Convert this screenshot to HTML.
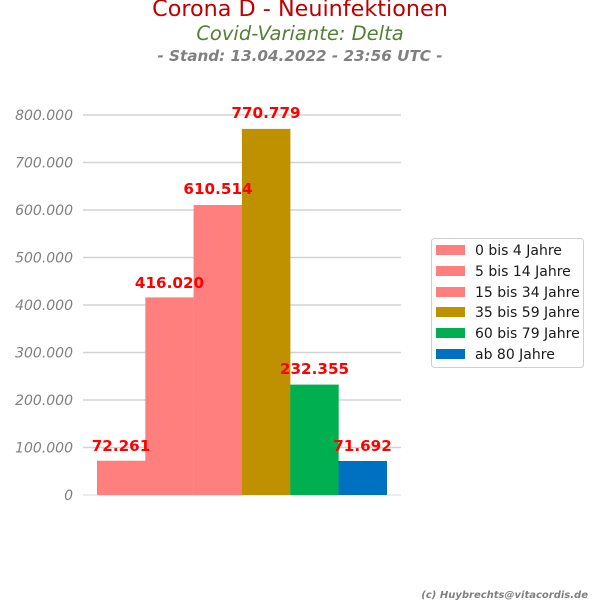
<!DOCTYPE html>
<html><head><style>body{margin:0;background:#fff}</style></head><body>
<svg width="600" height="600" xmlns="http://www.w3.org/2000/svg" font-family="DejaVu Sans, sans-serif">
<text x="300" y="16" text-anchor="middle" font-size="22.3" fill="#c00000">Corona D - Neuinfektionen</text>
<text x="300" y="40" text-anchor="middle" font-size="19.5" font-style="italic" fill="#538135">Covid-Variante: Delta</text>
<text x="300" y="61" text-anchor="middle" font-size="15.2" font-style="italic" font-weight="bold" fill="#808080">- Stand: 13.04.2022 - 23:56 UTC -</text>
<g stroke="#d3d3d3" stroke-width="1.5">
<line x1="83" x2="401" y1="115" y2="115"/><line x1="83" x2="401" y1="162.5" y2="162.5"/><line x1="83" x2="401" y1="210" y2="210"/><line x1="83" x2="401" y1="257.5" y2="257.5"/><line x1="83" x2="401" y1="305" y2="305"/><line x1="83" x2="401" y1="352.5" y2="352.5"/><line x1="83" x2="401" y1="400" y2="400"/><line x1="83" x2="401" y1="447.5" y2="447.5"/><line x1="83" x2="401" y1="495" y2="495" stroke="#e6e6e6"/>
</g>
<g font-size="14" font-style="italic" fill="#808080" text-anchor="end">
<text x="73" y="120">800.000</text><text x="73" y="167.5">700.000</text><text x="73" y="215">600.000</text><text x="73" y="262.5">500.000</text><text x="73" y="310">400.000</text><text x="73" y="357.5">300.000</text><text x="73" y="405">200.000</text><text x="73" y="452.5">100.000</text><text x="73" y="500">0</text>
</g>
<rect x="97" y="460.7" width="48.5" height="34.3" fill="#ff7f7f"/>
<rect x="145.3" y="297.4" width="48.5" height="197.6" fill="#ff7f7f"/>
<rect x="193.6" y="205" width="48.5" height="290" fill="#ff7f7f"/>
<rect x="241.9" y="128.9" width="48.5" height="366.1" fill="#bf9000"/>
<rect x="290.2" y="384.6" width="48.5" height="110.4" fill="#00b050"/>
<rect x="338.5" y="461" width="48.5" height="34" fill="#0070c0"/>
<g font-size="15.2" font-weight="bold" fill="#ff0000" text-anchor="middle">
<text x="121" y="451">72.261</text><text x="169.5" y="288">416.020</text><text x="218" y="194">610.514</text><text x="266" y="118">770.779</text><text x="314.5" y="374">232.355</text><text x="362.5" y="451">71.692</text>
</g>
<rect x="431.5" y="238.5" width="152" height="129" rx="3" fill="#fff" stroke="#d0d0d0"/>
<g font-size="14" fill="#1a1a1a">
<rect x="436" y="245" width="29" height="10" fill="#ff7f7f"/><text x="475" y="255">0 bis 4 Jahre</text>
<rect x="436" y="266" width="29" height="10" fill="#ff7f7f"/><text x="475" y="276">5 bis 14 Jahre</text>
<rect x="436" y="287" width="29" height="10" fill="#ff7f7f"/><text x="475" y="297">15 bis 34 Jahre</text>
<rect x="436" y="307" width="29" height="10" fill="#bf9000"/><text x="475" y="317">35 bis 59 Jahre</text>
<rect x="436" y="328" width="29" height="10" fill="#00b050"/><text x="475" y="338">60 bis 79 Jahre</text>
<rect x="436" y="349" width="29" height="10" fill="#0070c0"/><text x="475" y="359">ab 80 Jahre</text>
</g>
<text x="588" y="598" text-anchor="end" font-size="10" font-style="italic" font-weight="bold" fill="#808080">(c) Huybrechts@vitacordis.de</text>
</svg>
</body></html>
